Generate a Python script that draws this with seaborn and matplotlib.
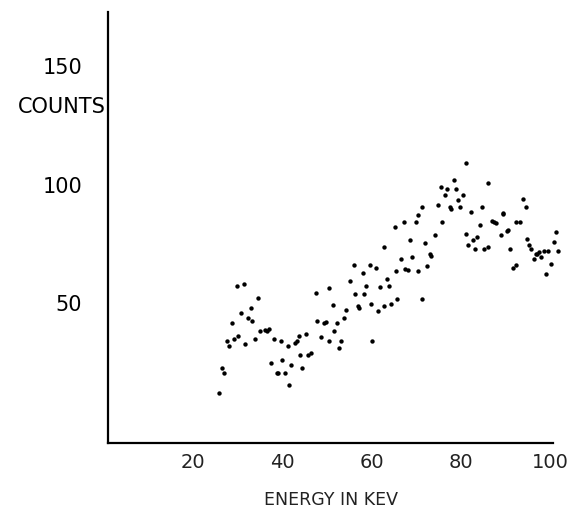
import matplotlib
matplotlib.use("Agg")
import matplotlib.pyplot as plt
import matplotlib.transforms as mtransforms
import seaborn as sns
import pandas as pd

# Data (energy in keV, counts)
energy_kev = [
    29.9, 31.5, 34.5, 32.9, 30.8, 32.4, 33.3, 28.7, 34.9, 36.1, 36.5, 37.1,
    38.1, 39.8, 30.0, 29.1, 27.6, 28.1, 31.7, 33.8, 41.2, 42.8, 43.2, 43.7,
    45.2, 48.6, 47.7, 49.3, 49.7, 47.5, 50.4, 44.0, 45.8, 46.3, 26.4, 26.9,
    37.5, 40.0, 38.8, 39.0, 40.5, 41.9, 44.5, 41.5, 25.8, 50.4,
    71.3, 74.8, 77.4, 70.4, 67.2, 69.8, 65.3, 75.7, 74.2, 68.6, 72.0, 62.7,
    73.1, 73.3, 69.0, 66.6, 72.4, 56.0, 59.6, 61.0, 67.5, 68.0, 65.4, 70.4,
    58.0, 55.1, 63.5, 58.7, 61.9, 63.8, 56.3, 58.3, 65.7, 71.3, 51.4, 56.9,
    57.2, 59.8, 64.4, 62.8, 61.5, 54.3, 53.8, 52.3, 51.6, 53.1, 60.1, 52.7,
    81.0, 78.5, 86.0, 75.5, 76.9, 78.9, 76.4, 80.3, 79.3, 77.7, 79.8, 93.9,
    94.4, 82.3, 84.7, 89.4, 89.3, 84.2, 86.8, 87.4, 87.9, 92.3, 93.2, 81.1,
    90.5, 90.2, 88.8, 101.2, 83.6, 82.6, 94.7, 100.7, 81.5, 85.9, 83.0, 85.0,
    95.2, 95.6, 91.0, 96.7, 96.9, 97.4, 98.5, 99.5, 101.6, 96.2, 97.9, 100.0,
    92.3, 91.5, 98.9,
]
counts = [
    64.4, 65.1, 59.3, 55.3, 53.3, 51.3, 50.2, 49.3, 46.3, 46.6, 46.3, 46.9,
    43.1, 42.2, 44.1, 43.1, 42.2, 40.3, 41.1, 43.1, 40.3, 41.5, 42.2, 44.1,
    45.1, 43.9, 50.2, 49.3, 49.9, 61.3, 63.3, 36.4, 36.7, 37.2, 31.4, 29.2,
    33.2, 34.5, 29.2, 29.2, 29.4, 32.4, 31.4, 24.5, 21.4, 42.2,
    95.9, 96.8, 95.9, 92.8, 89.8, 89.8, 88.1, 90.0, 84.9, 82.7, 81.6, 79.9,
    77.0, 76.3, 76.0, 75.0, 72.3, 72.7, 72.6, 71.5, 71.2, 70.6, 70.3, 70.3,
    69.6, 66.3, 66.9, 64.1, 64.0, 64.1, 61.2, 61.2, 59.0, 59.0, 56.5, 56.2,
    55.5, 57.1, 56.9, 56.2, 54.2, 54.5, 51.4, 49.3, 46.2, 42.0, 42.0, 39.5,
    113.8, 106.8, 105.7, 104.1, 103.1, 103.1, 100.8, 100.8, 98.8, 95.1, 95.9, 99.1,
    96.1, 93.9, 95.9, 93.5, 93.1, 88.9, 90.5, 89.8, 89.6, 90.1, 90.0, 85.0,
    86.7, 86.2, 84.9, 86.1, 83.8, 82.9, 83.0, 81.8, 80.7, 80.0, 79.1, 79.1,
    80.8, 79.0, 79.2, 77.1, 77.0, 77.9, 78.2, 78.2, 78.3, 75.2, 76.0, 73.2,
    72.6, 71.5, 69.2,
]
x_ticks = [20, 40, 60, 80, 100]
x_tick_labels = ["20", "40", "60", "80", "100"]
y_ticks = [50, 100, 150]
y_tick_labels = ["50", "100", "150"]
x_title = "ENERGY IN KEV"
y_title = "COUNTS"

df = pd.DataFrame({"energy": energy_kev, "counts": counts})

sns.set_style("white")
plt.rcParams["font.family"] = ["DejaVu Sans"]

fig = plt.figure(figsize=(5.76, 5.18), dpi=100)
ax = fig.add_axes([108 / 576, (518 - 443) / 518, 456 / 576, 431 / 518])

sns.scatterplot(data=df, x="energy", y="counts", ax=ax, color="black",
                s=10, linewidth=0, legend=False)

ax.set_xlim(1, 103)
ax.set_ylim(1.2, 174.3)

for side in ["top", "right"]:
    ax.spines[side].set_visible(False)
for side in ["left", "bottom"]:
    ax.spines[side].set_color("black")
    ax.spines[side].set_linewidth(1.6)
ax.spines["bottom"].set_bounds(1, 100.5)

ax.set_xticks(x_ticks)
ax.set_xticklabels(x_tick_labels, fontsize=14, color="#222222")
ax.tick_params(axis="x", direction="inout", length=5, width=1.2, pad=5,
               colors="black", labelcolor="#222222")
ax.set_yticks(y_ticks)
ax.set_yticklabels([])
ax.tick_params(axis="y", direction="out", length=4, width=1.2,
               colors="black", labelleft=False)

ax.set_xlabel(x_title, fontsize=12.5, color="#222222")
ax.xaxis.set_label_coords(0.489, -0.112)
ax.set_ylabel("")

trans = mtransforms.blended_transform_factory(ax.transAxes, ax.transData)
label_y = {"150": 151.8, "100": 104.0, "50": 56.6}
for lab in y_tick_labels:
    ax.text(-0.057, label_y[lab], lab, transform=trans, ha="right",
            va="center", fontsize=15, color="black")
ax.text(-0.004, 136, y_title, transform=trans, ha="right", va="center",
        fontsize=15, color="black")

fig.savefig("out.png", dpi=100, facecolor="white")
